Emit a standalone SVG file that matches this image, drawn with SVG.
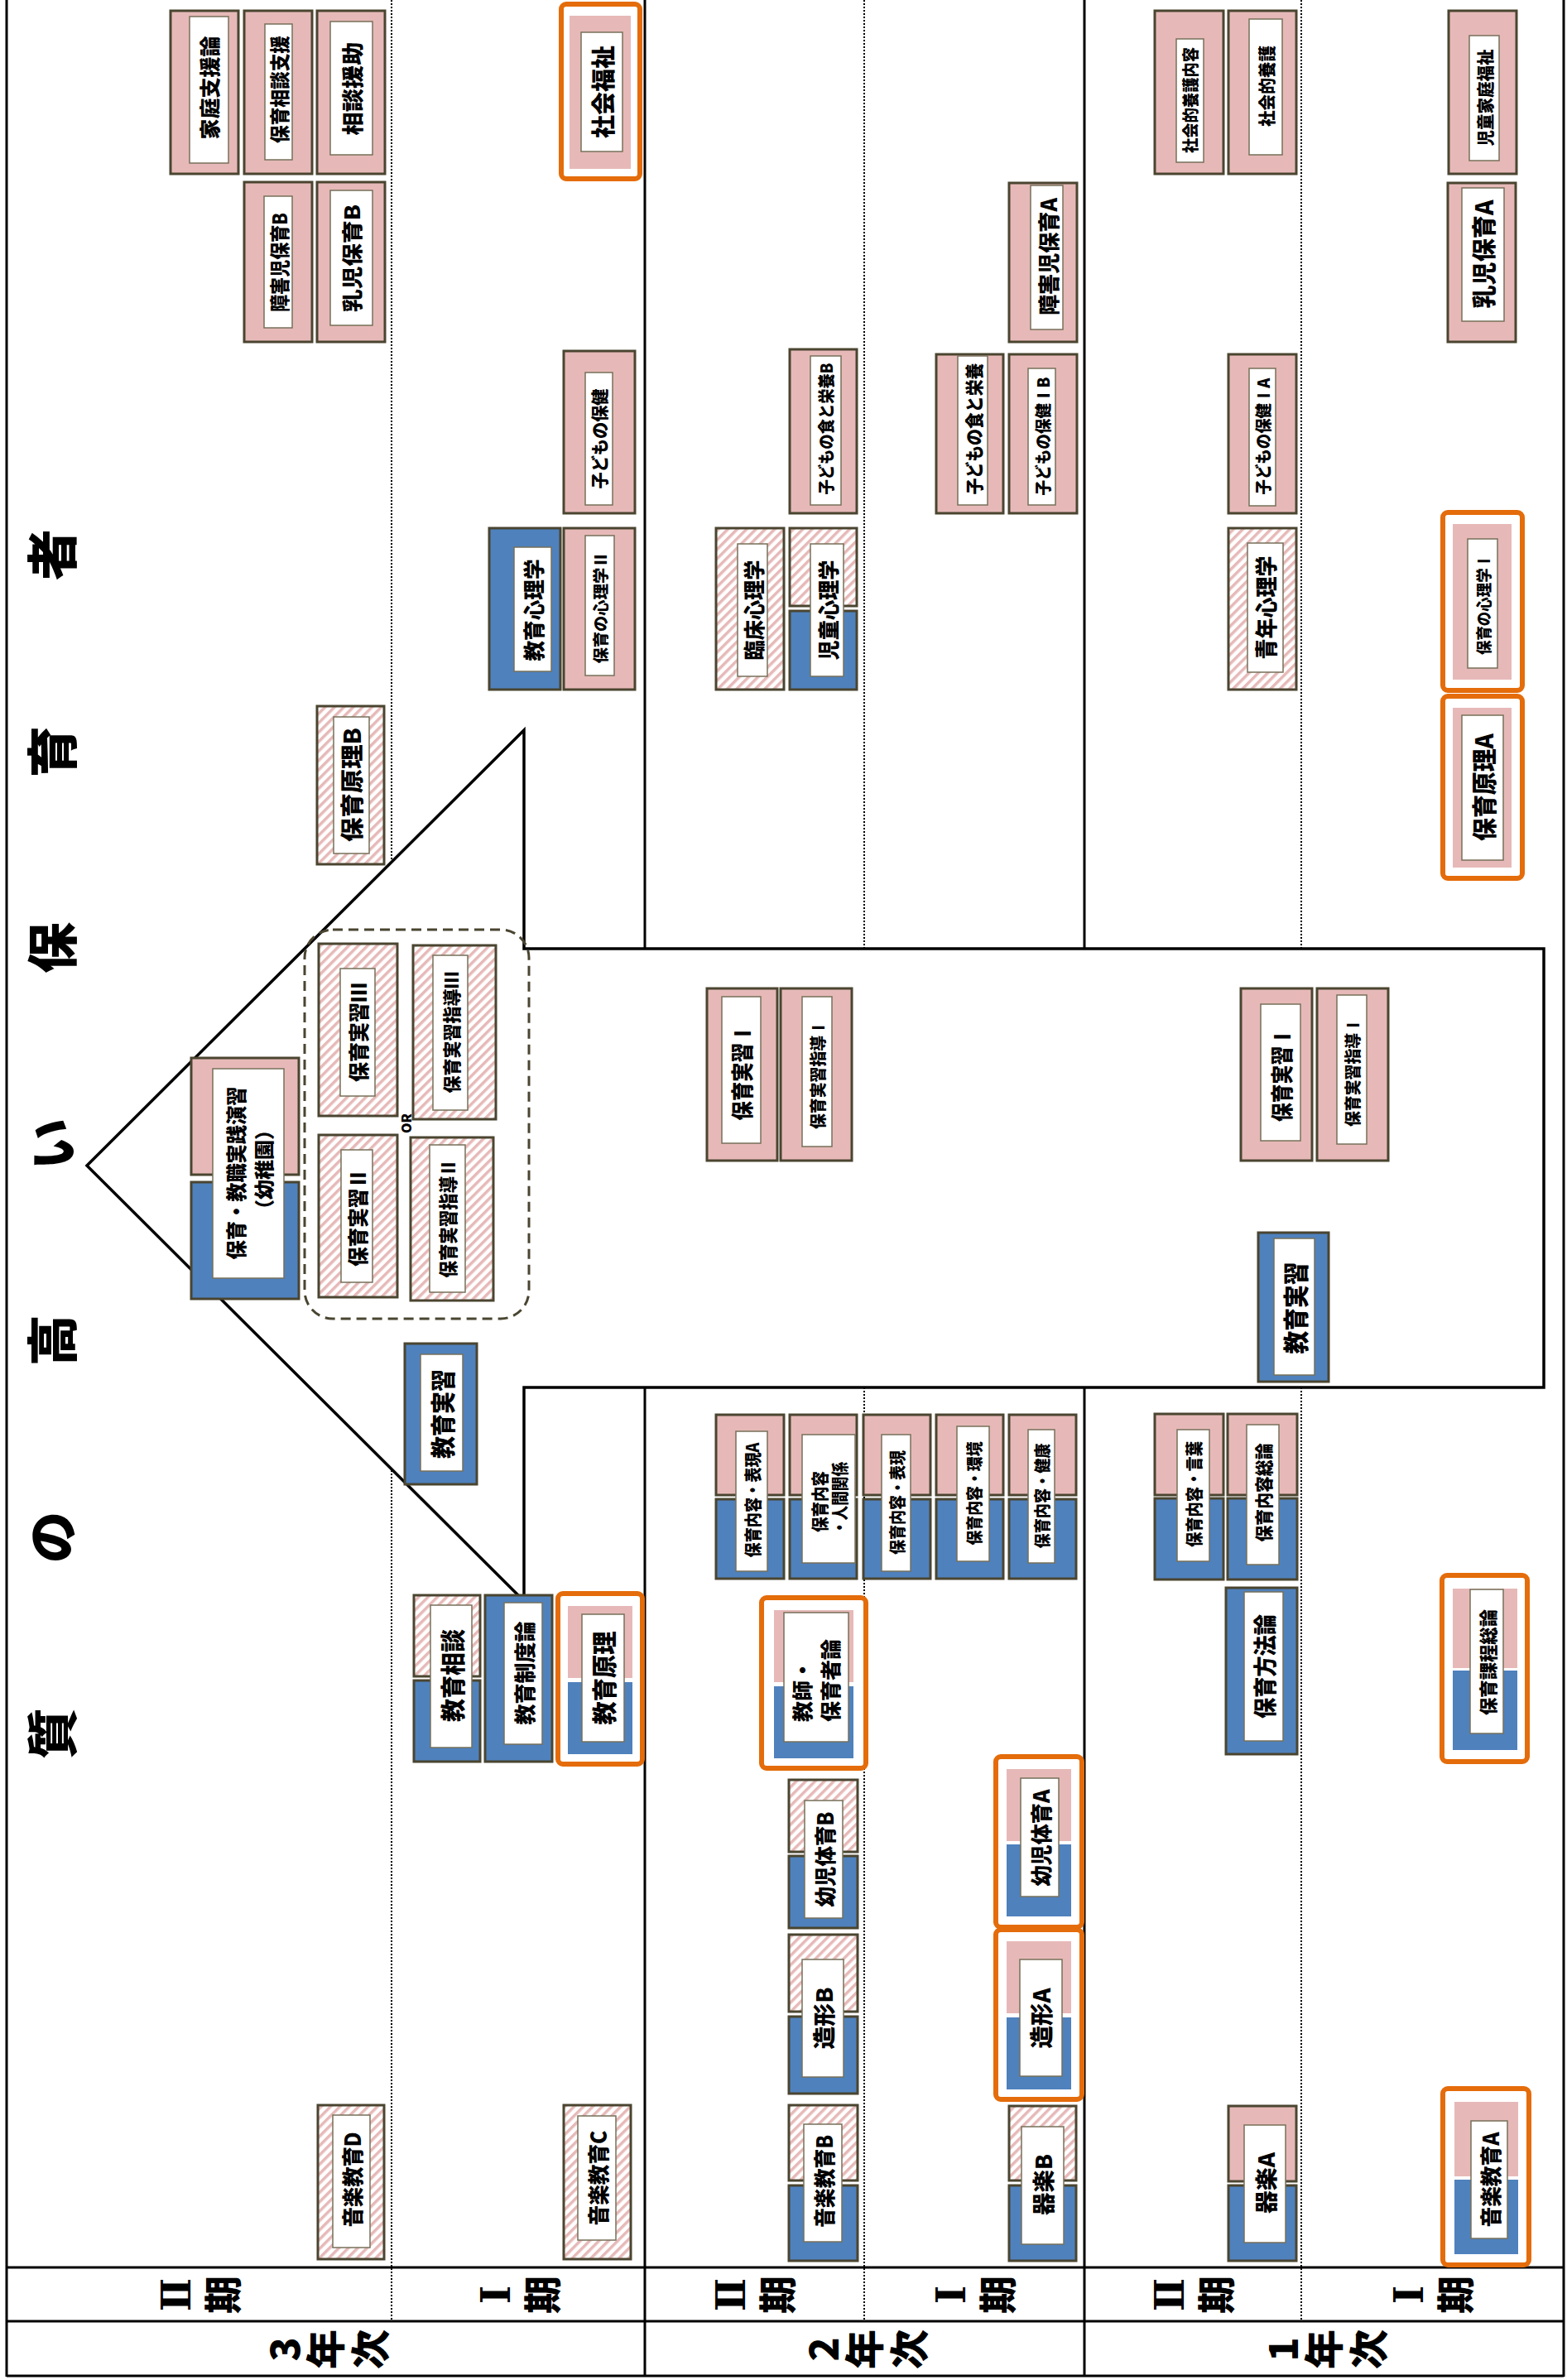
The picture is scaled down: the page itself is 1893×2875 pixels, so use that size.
<svg xmlns="http://www.w3.org/2000/svg" width="1893" height="2875" viewBox="0 0 1893 2875">
<defs>
<pattern id="hatch" width="8" height="8" patternUnits="userSpaceOnUse" patternTransform="rotate(45)">
<rect width="8" height="8" fill="#fff"/><rect width="3.5" height="8" fill="#E6B9B8"/>
</pattern>
<style>
.pk{fill:#E6B9B8;stroke:#4A4530;stroke-width:3}
.bl{fill:#4F81BD;stroke:#4A4530;stroke-width:3}
.ht{fill:url(#hatch);stroke:#4A4530;stroke-width:3}
.in{fill:#fff;stroke:#77705A;stroke-width:1.5}
.or{fill:#fff;stroke:#E46C0A;stroke-width:6}
.pf{fill:#E6B9B8}
.bf{fill:#4F81BD}
.t{font-family:"Noto Sans CJK JP","Noto Sans",sans-serif;font-weight:900;fill:#000;text-anchor:middle;dominant-baseline:central}
.ts{font-family:"Noto Sans CJK JP","Noto Sans",sans-serif;font-weight:900;fill:#000;text-anchor:start;dominant-baseline:central}
.rn{font-family:"DejaVu Serif","Noto Sans CJK JP",serif;font-weight:bold;fill:#000;text-anchor:middle;dominant-baseline:central}
.sl{stroke:#000;stroke-width:3;fill:none}
.dl{stroke:#000;stroke-width:2;stroke-dasharray:2 2;fill:none}
</style>
</defs>
<rect width="1893" height="2875" fill="#fff"/>

<g id="grid">
<line class="sl" x1="8" y1="0" x2="8" y2="2871"/>
<line class="sl" x1="1889" y1="0" x2="1889" y2="2871"/>
<line class="sl" x1="8" y1="2870" x2="1889" y2="2870"/>
<line class="sl" x1="8" y1="2739" x2="1889" y2="2739"/>
<line class="sl" x1="8" y1="2804" x2="1889" y2="2804"/>
<line class="sl" x1="779" y1="0" x2="779" y2="2870"/>
<line class="sl" x1="1310" y1="0" x2="1310" y2="2870"/>
<line class="dl" x1="473" y1="0" x2="473" y2="2804"/>
<line class="dl" x1="1044" y1="0" x2="1044" y2="2804"/>
<line class="dl" x1="1572" y1="0" x2="1572" y2="2804"/>
</g>

<g id="connectors">
<polygon points="105,1408 633,882 633,1146 1865,1146 1865,1676 633,1676 633,1934" fill="#fff" stroke="#000" stroke-width="3.5"/>
</g>

<g id="title">
<text class="t" font-size="62" transform="translate(60,2094) rotate(-90)">質</text>
<text class="t" font-size="62" transform="translate(60,1857) rotate(-90)">の</text>
<text class="t" font-size="62" transform="translate(60,1619) rotate(-90)">高</text>
<text class="t" font-size="62" transform="translate(60,1382) rotate(-90)">い</text>
<text class="t" font-size="62" transform="translate(60,1145) rotate(-90)">保</text>
<text class="t" font-size="62" transform="translate(60,908) rotate(-90)">育</text>
<text class="t" font-size="62" transform="translate(60,670) rotate(-90)">者</text>
</g>

<g id="header">
<text class="rn" font-size="48" transform="translate(213,2772) rotate(-90)">Ⅱ</text>
<text class="t" font-size="46" transform="translate(266,2772) rotate(-90)">期</text>
<text class="rn" font-size="48" transform="translate(599,2772) rotate(-90)">Ⅰ</text>
<text class="t" font-size="46" transform="translate(652,2772) rotate(-90)">期</text>
<text class="rn" font-size="48" transform="translate(883,2772) rotate(-90)">Ⅱ</text>
<text class="t" font-size="46" transform="translate(936,2772) rotate(-90)">期</text>
<text class="rn" font-size="48" transform="translate(1149,2772) rotate(-90)">Ⅰ</text>
<text class="t" font-size="46" transform="translate(1202,2772) rotate(-90)">期</text>
<text class="rn" font-size="48" transform="translate(1413,2772) rotate(-90)">Ⅱ</text>
<text class="t" font-size="46" transform="translate(1466,2772) rotate(-90)">期</text>
<text class="rn" font-size="48" transform="translate(1702,2772) rotate(-90)">Ⅰ</text>
<text class="t" font-size="46" transform="translate(1755,2772) rotate(-90)">期</text>
<text class="t" font-size="48" transform="translate(341,2838) rotate(-90)">3</text>
<text class="t" font-size="48" transform="translate(390,2838) rotate(-90)">年</text>
<text class="t" font-size="48" transform="translate(444,2838) rotate(-90)">次</text>
<text class="t" font-size="48" transform="translate(992,2838) rotate(-90)">2</text>
<text class="t" font-size="48" transform="translate(1041,2838) rotate(-90)">年</text>
<text class="t" font-size="48" transform="translate(1095,2838) rotate(-90)">次</text>
<text class="t" font-size="48" transform="translate(1547,2838) rotate(-90)">1</text>
<text class="t" font-size="48" transform="translate(1596,2838) rotate(-90)">年</text>
<text class="t" font-size="48" transform="translate(1650,2838) rotate(-90)">次</text>
</g>

<!-- 3年 II期 -->
<g id="kateishien"><rect class="pk" x="206" y="13" width="82" height="197"/><rect class="in" x="229" y="20" width="47" height="177"/><text class="t" font-size="25" textLength="125" lengthAdjust="spacingAndGlyphs" transform="translate(252,106) rotate(-90)">家庭支援論</text></g>
<g id="hoikusoudanshien"><rect class="pk" x="295" y="13" width="82" height="197"/><rect class="in" x="320" y="29" width="33" height="164"/><text class="t" font-size="24" textLength="130" lengthAdjust="spacingAndGlyphs" transform="translate(336,108) rotate(-90)">保育相談支援</text></g>
<g id="soudanenjo"><rect class="pk" x="383" y="13" width="82" height="197"/><rect class="in" x="399" y="26" width="51" height="161"/><text class="t" font-size="26" textLength="113" lengthAdjust="spacingAndGlyphs" transform="translate(424,107) rotate(-90)">相談援助</text></g>
<g id="shougaijiB"><rect class="pk" x="295" y="220" width="82" height="193"/><rect class="in" x="319" y="237" width="34" height="159"/><text class="t" font-size="24" textLength="120" lengthAdjust="spacingAndGlyphs" transform="translate(336,317) rotate(-90)">障害児保育B</text></g>
<g id="nyujiB"><rect class="pk" x="383" y="220" width="82" height="193"/><rect class="in" x="399" y="230" width="51" height="163"/><text class="t" font-size="25" textLength="130" lengthAdjust="spacingAndGlyphs" transform="translate(424,312) rotate(-90)">乳児保育B</text></g>
<g id="hoikugenriB"><rect class="ht" x="383" y="853" width="81" height="191"/><rect class="in" x="403" y="866" width="43" height="165"/><text class="t" font-size="28" textLength="138" lengthAdjust="spacingAndGlyphs" transform="translate(424,948) rotate(-90)">保育原理B</text></g>
<g id="jissenenshu"><rect class="pk" x="231" y="1278" width="130" height="141"/><rect class="bl" x="231" y="1428" width="130" height="141"/><rect class="in" x="257" y="1291" width="86" height="253"/><text class="t" font-size="25" textLength="209" lengthAdjust="spacingAndGlyphs" transform="translate(284,1417) rotate(-90)">保育・教職実践演習</text><text class="t" font-size="24" transform="translate(317,1413) rotate(-90)">（幼稚園）</text></g>
<g id="jisshugroup"><rect x="368" y="1123" width="271" height="470" rx="34" fill="none" stroke="#4A4530" stroke-width="3" stroke-dasharray="12 7"/><text class="t" font-size="16" transform="translate(490,1357) rotate(-90)">OR</text></g>
<g id="hoikujisshu3"><rect class="ht" x="385" y="1140" width="95" height="208"/><rect class="in" x="411" y="1170" width="42" height="154"/><text class="t" font-size="25" textLength="120" lengthAdjust="spacingAndGlyphs" transform="translate(432,1247) rotate(-90)">保育実習Ⅲ</text></g>
<g id="shidou3"><rect class="ht" x="499" y="1142" width="100" height="210"/><rect class="in" x="523" y="1154" width="42" height="187"/><text class="t" font-size="22" textLength="147" lengthAdjust="spacingAndGlyphs" transform="translate(544,1247) rotate(-90)">保育実習指導Ⅲ</text></g>
<g id="hoikujisshu2"><rect class="ht" x="385" y="1371" width="95" height="196"/><rect class="in" x="412" y="1389" width="38" height="160"/><text class="t" font-size="25" textLength="118" lengthAdjust="spacingAndGlyphs" transform="translate(431,1471) rotate(-90)">保育実習Ⅱ</text></g>
<g id="shidou2"><rect class="ht" x="496" y="1374" width="100" height="197"/><rect class="in" x="519" y="1383" width="43" height="178"/><text class="t" font-size="23" textLength="143" lengthAdjust="spacingAndGlyphs" transform="translate(540,1472) rotate(-90)">保育実習指導Ⅱ</text></g>
<g id="kyouikujisshu3"><rect class="bl" x="489" y="1623" width="87" height="170"/><rect class="in" x="508" y="1636" width="51" height="141"/><text class="t" font-size="30" textLength="108" lengthAdjust="spacingAndGlyphs" transform="translate(533,1708) rotate(-90)">教育実習</text></g>
<g id="kyouikusoudan"><rect class="ht" x="500" y="1927" width="80" height="98"/><rect class="bl" x="500" y="2030" width="80" height="98"/><rect class="in" x="520" y="1939" width="50" height="172"/><text class="t" font-size="30" textLength="112" lengthAdjust="spacingAndGlyphs" transform="translate(545,2024) rotate(-90)">教育相談</text></g>
<g id="kyouikuseido"><rect class="bl" x="586" y="1927" width="81" height="201"/><rect class="in" x="609" y="1936" width="46" height="171"/><text class="t" font-size="26" textLength="125" lengthAdjust="spacingAndGlyphs" transform="translate(632,2021) rotate(-90)">教育制度論</text></g>
<g id="kyouikugenri"><rect class="or" x="674" y="1925" width="102" height="206" rx="6"/><rect class="pf" x="686" y="1940" width="78" height="87"/><rect class="bf" x="686" y="2032" width="78" height="87"/><rect class="in" x="703" y="1950" width="51" height="154"/><text class="t" font-size="30" textLength="113" lengthAdjust="spacingAndGlyphs" transform="translate(728,2027) rotate(-90)">教育原理</text></g>
<g id="ongakuD"><rect class="ht" x="384" y="2543" width="80" height="186"/><rect class="in" x="402" y="2555" width="45" height="160"/><text class="t" font-size="26" textLength="115" lengthAdjust="spacingAndGlyphs" transform="translate(424,2633) rotate(-90)">音楽教育D</text></g>

<!-- 3年 I期 -->
<g id="shakaifukushi"><rect class="or" x="678" y="5" width="95" height="211" rx="6"/><rect class="pf" x="688" y="19" width="74" height="185"/><rect class="in" x="702" y="39" width="50" height="144"/><text class="t" font-size="29" textLength="112" lengthAdjust="spacingAndGlyphs" transform="translate(727,111) rotate(-90)">社会福祉</text></g>
<g id="kodomohoken"><rect class="pk" x="681" y="424" width="86" height="196"/><rect class="in" x="707" y="450" width="33" height="160"/><text class="t" font-size="21" textLength="121" lengthAdjust="spacingAndGlyphs" transform="translate(723,530) rotate(-90)">子どもの保健</text></g>
<g id="kyouikushinri"><rect class="bl" x="591" y="638" width="86" height="195"/><rect class="in" x="621" y="661" width="45" height="150"/><text class="t" font-size="26" textLength="123" lengthAdjust="spacingAndGlyphs" transform="translate(643,737) rotate(-90)">教育心理学</text></g>
<g id="hoikushinri2"><rect class="pk" x="681" y="638" width="86" height="195"/><rect class="in" x="707" y="647" width="35" height="169"/><text class="t" font-size="19" textLength="135" lengthAdjust="spacingAndGlyphs" transform="translate(724,734) rotate(-90)">保育の心理学Ⅱ</text></g>
<g id="ongakuC"><rect class="ht" x="681" y="2543" width="81" height="186"/><rect class="in" x="698" y="2556" width="46" height="150"/><text class="t" font-size="26" textLength="115" lengthAdjust="spacingAndGlyphs" transform="translate(721,2631) rotate(-90)">音楽教育C</text></g>

<!-- 2年 II期 -->
<g id="rinshoushinri"><rect class="ht" x="865" y="638" width="82" height="195"/><rect class="in" x="891" y="657" width="36" height="160"/><text class="t" font-size="26" textLength="121" lengthAdjust="spacingAndGlyphs" transform="translate(909,737) rotate(-90)">臨床心理学</text></g>
<g id="jidoushinri"><rect class="ht" x="954" y="638" width="81" height="94"/><rect class="bl" x="954" y="738" width="81" height="95"/><rect class="in" x="979" y="657" width="40" height="160"/><text class="t" font-size="26" textLength="121" lengthAdjust="spacingAndGlyphs" transform="translate(999,737) rotate(-90)">児童心理学</text></g>
<g id="shokuB"><rect class="pk" x="954" y="422" width="81" height="198"/><rect class="in" x="979" y="430" width="37" height="180"/><text class="t" font-size="20" textLength="159" lengthAdjust="spacingAndGlyphs" transform="translate(997,518) rotate(-90)">子どもの食と栄養B</text></g>
<g id="hoikujisshu1b"><rect class="pk" x="854" y="1194" width="85" height="208"/><rect class="in" x="872" y="1204" width="47" height="177"/><text class="t" font-size="27" textLength="117" lengthAdjust="spacingAndGlyphs" transform="translate(895,1295) rotate(-90)">保育実習Ⅰ</text></g>
<g id="shidou1b"><rect class="pk" x="943" y="1194" width="86" height="208"/><rect class="in" x="969" y="1204" width="36" height="181"/><text class="t" font-size="20" textLength="132" lengthAdjust="spacingAndGlyphs" transform="translate(987,1298) rotate(-90)">保育実習指導Ⅰ</text></g>
<g id="hyougenA"><rect class="pk" x="865" y="1709" width="82" height="97"/><rect class="bl" x="865" y="1811" width="82" height="96"/><rect class="in" x="889" y="1729" width="38" height="169"/><text class="t" font-size="21" textLength="139" lengthAdjust="spacingAndGlyphs" transform="translate(908,1812) rotate(-90)">保育内容・表現A</text></g>
<g id="ningenkankei"><rect class="pk" x="954" y="1709" width="81" height="97"/><rect class="bl" x="954" y="1811" width="81" height="96"/><rect class="in" x="969" y="1733" width="64" height="155"/><text class="t" font-size="21" textLength="74" lengthAdjust="spacingAndGlyphs" transform="translate(989,1814) rotate(-90)">保育内容</text><text class="t" font-size="21" textLength="88" lengthAdjust="spacingAndGlyphs" transform="translate(1013,1810) rotate(-90)">・人間関係</text></g>
<g id="kyoushiron"><rect class="or" x="920" y="1930" width="126" height="206" rx="6"/><rect class="pf" x="935" y="1945" width="96" height="87"/><rect class="bf" x="935" y="2037" width="96" height="87"/><rect class="in" x="947" y="1948" width="78" height="156"/><text class="ts" font-size="25" transform="translate(968,2080) rotate(-90)">教師・</text><text class="ts" font-size="25" transform="translate(1002,2080) rotate(-90)">保育者論</text></g>
<g id="taiikuB"><rect class="ht" x="953" y="2150" width="83" height="87"/><rect class="bl" x="953" y="2242" width="83" height="87"/><rect class="in" x="972" y="2175" width="46" height="142"/><text class="t" font-size="26" textLength="115" lengthAdjust="spacingAndGlyphs" transform="translate(995,2246) rotate(-90)">幼児体育B</text></g>
<g id="zoukeiB"><rect class="ht" x="953" y="2337" width="83" height="93"/><rect class="bl" x="953" y="2436" width="83" height="93"/><rect class="in" x="969" y="2367" width="50" height="142"/><text class="t" font-size="27" textLength="75" lengthAdjust="spacingAndGlyphs" transform="translate(994,2438) rotate(-90)">造形B</text></g>
<g id="ongakuB"><rect class="ht" x="953" y="2543" width="83" height="91"/><rect class="bl" x="953" y="2640" width="83" height="91"/><rect class="in" x="971" y="2566" width="46" height="142"/><text class="t" font-size="26" textLength="112" lengthAdjust="spacingAndGlyphs" transform="translate(994,2635) rotate(-90)">音楽教育B</text></g>

<!-- 2年 I期 -->
<g id="shoku"><rect class="pk" x="1131" y="428" width="81" height="192"/><rect class="in" x="1157" y="430" width="36" height="180"/><text class="t" font-size="22" textLength="159" lengthAdjust="spacingAndGlyphs" transform="translate(1175,518) rotate(-90)">子どもの食と栄養</text></g>
<g id="hoken1B"><rect class="pk" x="1219" y="428" width="82" height="192"/><rect class="in" x="1242" y="445" width="33" height="165"/><text class="t" font-size="20" textLength="143" lengthAdjust="spacingAndGlyphs" transform="translate(1259,527) rotate(-90)">子どもの保健ⅠB</text></g>
<g id="shougaijiA"><rect class="pk" x="1219" y="221" width="82" height="192"/><rect class="in" x="1245" y="224" width="39" height="174"/><text class="t" font-size="26" textLength="142" lengthAdjust="spacingAndGlyphs" transform="translate(1265,310) rotate(-90)">障害児保育A</text></g>
<g id="hyougen"><rect class="pk" x="1043" y="1709" width="81" height="97"/><rect class="bl" x="1043" y="1811" width="81" height="96"/><rect class="in" x="1065" y="1733" width="35" height="165"/><text class="t" font-size="20" textLength="126" lengthAdjust="spacingAndGlyphs" transform="translate(1083,1815) rotate(-90)">保育内容・表現</text></g>
<g id="kankyou"><rect class="pk" x="1131" y="1709" width="81" height="97"/><rect class="bl" x="1131" y="1811" width="81" height="96"/><rect class="in" x="1156" y="1723" width="39" height="163"/><text class="t" font-size="20" textLength="125" lengthAdjust="spacingAndGlyphs" transform="translate(1176,1804) rotate(-90)">保育内容・環境</text></g>
<g id="kenkou"><rect class="pk" x="1219" y="1709" width="81" height="97"/><rect class="bl" x="1219" y="1811" width="81" height="96"/><rect class="in" x="1242" y="1727" width="32" height="161"/><text class="t" font-size="20" textLength="127" lengthAdjust="spacingAndGlyphs" transform="translate(1258,1807) rotate(-90)">保育内容・健康</text></g>
<g id="taiikuA"><rect class="or" x="1203" y="2122" width="104" height="206" rx="6"/><rect class="pf" x="1216" y="2137" width="78" height="87"/><rect class="bf" x="1216" y="2228" width="78" height="87"/><rect class="in" x="1233" y="2148" width="46" height="143"/><text class="t" font-size="26" textLength="117" lengthAdjust="spacingAndGlyphs" transform="translate(1256,2220) rotate(-90)">幼児体育A</text></g>
<g id="zoukeiA"><rect class="or" x="1203" y="2331" width="104" height="205" rx="6"/><rect class="pf" x="1216" y="2345" width="78" height="87"/><rect class="bf" x="1216" y="2437" width="78" height="87"/><rect class="in" x="1232" y="2367" width="51" height="141"/><text class="t" font-size="28" textLength="73" lengthAdjust="spacingAndGlyphs" transform="translate(1257,2438) rotate(-90)">造形A</text></g>
<g id="kigakuB"><rect class="ht" x="1219" y="2544" width="81" height="90"/><rect class="bl" x="1219" y="2640" width="81" height="91"/><rect class="in" x="1234" y="2569" width="51" height="142"/><text class="t" font-size="27" textLength="74" lengthAdjust="spacingAndGlyphs" transform="translate(1259,2639) rotate(-90)">器楽B</text></g>

<!-- 1年 II期 -->
<g id="shakaitekiyougonaiyou"><rect class="pk" x="1395" y="13" width="83" height="197"/><rect class="in" x="1421" y="47" width="33" height="149"/><text class="t" font-size="20" textLength="128" lengthAdjust="spacingAndGlyphs" transform="translate(1437,121) rotate(-90)">社会的養護内容</text></g>
<g id="shakaitekiyougo"><rect class="pk" x="1484" y="13" width="82" height="197"/><rect class="in" x="1509" y="23" width="40" height="164"/><text class="t" font-size="21" textLength="98" lengthAdjust="spacingAndGlyphs" transform="translate(1529,104) rotate(-90)">社会的養護</text></g>
<g id="hoken1A"><rect class="pk" x="1484" y="428" width="82" height="192"/><rect class="in" x="1509" y="445" width="32" height="166"/><text class="t" font-size="20" textLength="141" lengthAdjust="spacingAndGlyphs" transform="translate(1525,527) rotate(-90)">子どもの保健ⅠA</text></g>
<g id="seinenshinri"><rect class="ht" x="1484" y="638" width="82" height="195"/><rect class="in" x="1507" y="656" width="43" height="156"/><text class="t" font-size="27" textLength="125" lengthAdjust="spacingAndGlyphs" transform="translate(1528,734) rotate(-90)">青年心理学</text></g>
<g id="hoikujisshu1a"><rect class="pk" x="1499" y="1194" width="86" height="208"/><rect class="in" x="1523" y="1213" width="48" height="165"/><text class="t" font-size="27" textLength="114" lengthAdjust="spacingAndGlyphs" transform="translate(1547,1298) rotate(-90)">保育実習Ⅰ</text></g>
<g id="shidou1a"><rect class="pk" x="1591" y="1194" width="86" height="208"/><rect class="in" x="1615" y="1202" width="36" height="180"/><text class="t" font-size="20" textLength="132" lengthAdjust="spacingAndGlyphs" transform="translate(1633,1295) rotate(-90)">保育実習指導Ⅰ</text></g>
<g id="kyouikujisshu1"><rect class="bl" x="1520" y="1489" width="85" height="180"/><rect class="in" x="1539" y="1496" width="49" height="165"/><text class="t" font-size="31" textLength="111" lengthAdjust="spacingAndGlyphs" transform="translate(1563,1580) rotate(-90)">教育実習</text></g>
<g id="kotoba"><rect class="pk" x="1395" y="1708" width="83" height="98"/><rect class="bl" x="1395" y="1810" width="83" height="98"/><rect class="in" x="1422" y="1727" width="39" height="159"/><text class="t" font-size="21" textLength="128" lengthAdjust="spacingAndGlyphs" transform="translate(1441,1805) rotate(-90)">保育内容・言葉</text></g>
<g id="souron"><rect class="pk" x="1483" y="1708" width="84" height="98"/><rect class="bl" x="1483" y="1810" width="84" height="98"/><rect class="in" x="1506" y="1721" width="39" height="169"/><text class="t" font-size="22" textLength="119" lengthAdjust="spacingAndGlyphs" transform="translate(1525,1803) rotate(-90)">保育内容総論</text></g>
<g id="houhouron"><rect class="bl" x="1481" y="1918" width="86" height="201"/><rect class="in" x="1503" y="1923" width="47" height="180"/><text class="t" font-size="28" textLength="126" lengthAdjust="spacingAndGlyphs" transform="translate(1527,2013) rotate(-90)">保育方法論</text></g>
<g id="kigakuA"><rect class="pk" x="1484" y="2544" width="82" height="91"/><rect class="bl" x="1484" y="2640" width="82" height="91"/><rect class="in" x="1503" y="2567" width="50" height="142"/><text class="t" font-size="27" textLength="74" lengthAdjust="spacingAndGlyphs" transform="translate(1528,2637) rotate(-90)">器楽A</text></g>

<!-- 1年 I期 -->
<g id="jidoukatei"><rect class="pk" x="1750" y="13" width="82" height="197"/><rect class="in" x="1775" y="43" width="36" height="151"/><text class="t" font-size="21" textLength="117" lengthAdjust="spacingAndGlyphs" transform="translate(1793,118) rotate(-90)">児童家庭福祉</text></g>
<g id="nyujiA"><rect class="pk" x="1749" y="221" width="82" height="192"/><rect class="in" x="1766" y="227" width="51" height="161"/><text class="t" font-size="29" textLength="131" lengthAdjust="spacingAndGlyphs" transform="translate(1791,307) rotate(-90)">乳児保育A</text></g>
<g id="hoikushinri1"><rect class="or" x="1743" y="619" width="96" height="215" rx="6"/><rect class="pf" x="1755" y="633" width="71" height="188"/><rect class="in" x="1773" y="651" width="36" height="156"/><text class="t" font-size="19" textLength="122" lengthAdjust="spacingAndGlyphs" transform="translate(1791,730) rotate(-90)">保育の心理学Ⅰ</text></g>
<g id="hoikugenriA"><rect class="or" x="1743" y="841" width="96" height="220" rx="6"/><rect class="pf" x="1755" y="855" width="71" height="193"/><rect class="in" x="1766" y="864" width="50" height="175"/><text class="t" font-size="30" textLength="130" lengthAdjust="spacingAndGlyphs" transform="translate(1791,951) rotate(-90)">保育原理A</text></g>
<g id="katei"><rect class="or" x="1742" y="1903" width="103" height="225" rx="6"/><rect class="pf" x="1755" y="1919" width="78" height="96"/><rect class="bf" x="1755" y="2018" width="78" height="96"/><rect class="in" x="1776" y="1920" width="40" height="174"/><text class="t" font-size="22" textLength="128" lengthAdjust="spacingAndGlyphs" transform="translate(1796,2008) rotate(-90)">保育課程総論</text></g>
<g id="ongakuA"><rect class="or" x="1743" y="2523" width="104" height="213" rx="6"/><rect class="pf" x="1757" y="2539" width="77" height="90"/><rect class="bf" x="1757" y="2633" width="77" height="90"/><rect class="in" x="1777" y="2562" width="44" height="142"/><text class="t" font-size="26" textLength="115" lengthAdjust="spacingAndGlyphs" transform="translate(1799,2633) rotate(-90)">音楽教育A</text></g>
</svg>
